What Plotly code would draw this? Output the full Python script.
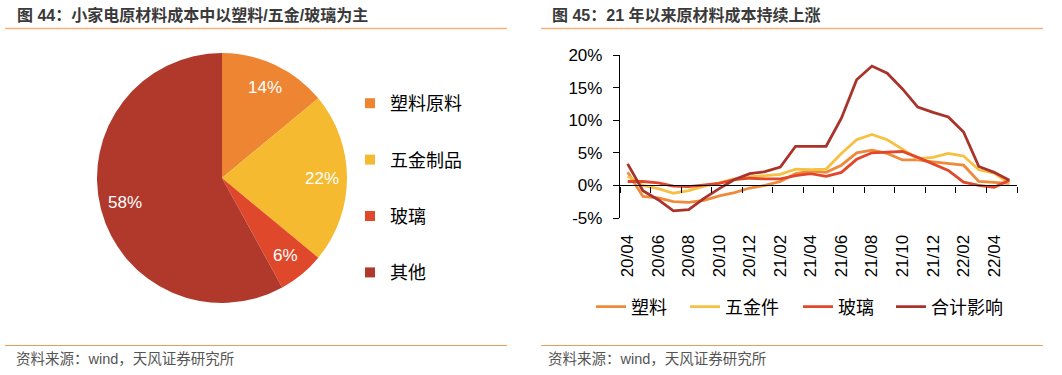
import math
import plotly.graph_objects as go

W, H = 1062, 375
FONT = "Liberation Sans, Arial, Noto Sans CJK SC, sans-serif"

# ---------------- data: pie ----------------
pie_title = "图 44：小家电原材料成本中以塑料/五金/玻璃为主"
pie_labels = ["塑料原料", "五金制品", "玻璃", "其他"]
pie_values = [14, 22, 6, 58]
pie_colors = ["#EE8532", "#F5BA30", "#E0482B", "#B0392C"]

# ---------------- data: lines ----------------
line_title = "图 45：21 年以来原材料成本持续上涨"
months = ["20/04", "20/05", "20/06", "20/07", "20/08", "20/09", "20/10", "20/11",
          "20/12", "21/01", "21/02", "21/03", "21/04", "21/05", "21/06", "21/07",
          "21/08", "21/09", "21/10", "21/11", "21/12", "22/01", "22/02", "22/03",
          "22/04", "22/05"]
plastic = [2.0, -1.7, -1.9, -2.5, -2.6, -2.3, -1.6, -1.1, -0.4, 0.0, 0.6, 1.8, 2.2,
           2.0, 3.1, 5.0, 5.4, 4.9, 3.9, 3.9, 3.6, 3.3, 3.1, 0.6, 0.5, 0.3]
hardware = [1.4, 0.0, -0.5, -1.2, -0.8, -0.1, 0.4, 1.0, 1.3, 1.5, 1.7, 2.5, 2.4,
            2.5, 4.9, 7.0, 7.8, 7.0, 5.6, 4.1, 4.3, 4.9, 4.5, 2.4, 1.9, 0.3]
glass = [0.6, 0.6, 0.4, -0.1, -0.2, 0.0, 0.3, 0.9, 1.1, 1.0, 1.0, 1.5, 1.8,
         1.4, 2.0, 4.0, 5.0, 5.1, 5.2, 4.3, 3.3, 2.3, 0.5, 0.0, -0.3, 0.8]
total = [3.3, -0.8, -2.2, -3.9, -3.7, -2.0, -0.5, 0.9, 1.8, 2.1, 2.8, 6.0, 6.0,
         6.0, 10.3, 16.2, 18.3, 17.2, 14.8, 12.0, 11.2, 10.5, 8.2, 2.9, 2.0, 0.8]
series_names = ["塑料", "五金件", "玻璃", "合计影响"]
series_values = [plastic, hardware, glass, total]
line_colors = ["#EE8A3A", "#F6C142", "#E2472B", "#A9332A"]
y_ticks = [-5, 0, 5, 10, 15, 20]
y_ticktext = ["-5%", "0%", "5%", "10%", "15%", "20%"]
source_text = "资料来源：wind，天风证券研究所"


def px_x(p):
    return p / W


def px_y(p):
    return 1 - p / H


fig = go.Figure()

# pie geometry (pixels)
PIE_L, PIE_R, PIE_T, PIE_B = 97, 347, 53, 303
fig.add_trace(go.Pie(
    labels=pie_labels, values=pie_values, sort=False, direction="clockwise",
    rotation=0, marker=dict(colors=pie_colors, line=dict(width=0)),
    textinfo="none", automargin=False,
    domain=dict(x=[px_x(PIE_L), px_x(PIE_R)], y=[px_y(PIE_B), px_y(PIE_T)]),
    showlegend=False, hoverinfo="label+percent",
))

# percentage labels placed on each slice's bisector (Excel-style)
cx, cy = (PIE_L + PIE_R) / 2, (PIE_T + PIE_B) / 2
rad = min(PIE_R - PIE_L, PIE_B - PIE_T) / 2 * 0.8
tot = sum(pie_values)
cum = 0
for v in pie_values:
    mid = (cum + v / 2) / tot * 2 * math.pi
    cum += v
    lx = cx + rad * math.sin(mid)
    ly = cy - rad * math.cos(mid)
    fig.add_annotation(text=f"{v}%", xref="paper", yref="paper",
                       x=px_x(lx), y=px_y(ly), showarrow=False,
                       xanchor="center", yanchor="middle",
                       font=dict(color="white", size=17))

# legend entries for pie (square markers)
for lab, col in zip(pie_labels, pie_colors):
    fig.add_trace(go.Scatter(
        x=[None], y=[None], mode="markers", name=lab,
        marker=dict(symbol="square", size=10, color=col),
        legend="legend", legendgroup=lab, showlegend=True,
    ))

n = len(months)
xs = list(range(n))
line_legends = ["legend2", "legend3", "legend4", "legend5"]
for name, vals, col, lg in zip(series_names, series_values, line_colors, line_legends):
    fig.add_trace(go.Scatter(
        x=xs, y=vals, mode="lines", name=name,
        line=dict(color=col, width=2.8),
        legend=lg,
    ))

# helper trace for the zero-crossing axis
fig.add_trace(go.Scatter(x=[None], y=[None], xaxis="x2", yaxis="y",
                         showlegend=False, hoverinfo="skip"))

ydom = [px_y(218), px_y(55)]
yr = [y_ticks[0], y_ticks[-1]]
zero_pos = ydom[0] + (0 - yr[0]) / (yr[1] - yr[0]) * (ydom[1] - ydom[0])

legend_common = dict(font=dict(size=18), bgcolor="rgba(0,0,0,0)",
                     itemclick=False, itemdoubleclick=False)
line_legend_x = [591, 685, 798, 891]

fig.update_layout(
    template="none",
    width=W, height=H, margin=dict(l=0, r=0, t=0, b=0, autoexpand=False),
    paper_bgcolor="white", plot_bgcolor="white",
    font=dict(family=FONT, color="black"),
    xaxis=dict(domain=[px_x(620), px_x(1017)], range=[-0.5, n - 0.5],
               tickmode="array", tickvals=xs[::2], ticktext=months[::2],
               tickangle=-90, ticks="outside", ticklen=9, automargin=False,
               tickcolor="rgba(0,0,0,0)", showline=False, showgrid=False,
               zeroline=False, tickfont=dict(size=17), anchor="y"),
    xaxis2=dict(overlaying="x", anchor="free", position=zero_pos,
                range=[-0.5, n - 0.5], tickmode="array", automargin=False,
                tickvals=[i - 0.5 for i in range(0, n + 1, 2)],
                showticklabels=False, ticks="outside", ticklen=6,
                tickcolor="black", tickwidth=1.3, showline=True,
                linecolor="black", linewidth=1.3, showgrid=False,
                zeroline=False),
    yaxis=dict(domain=ydom, range=yr, tickmode="array", tickvals=y_ticks,
               ticktext=y_ticktext, showline=True, linecolor="black",
               linewidth=1.3, ticks="outside", ticklen=6, tickwidth=1.3,
               tickcolor="black", showgrid=False, zeroline=False,
               automargin=False,
               tickfont=dict(size=17), ticklabelstandoff=7),
    legend=dict(x=px_x(350), xanchor="left", y=px_y(85), yanchor="top",
                tracegroupgap=30, **legend_common),
    showlegend=True,
)
for lg, lx in zip(line_legends, line_legend_x):
    fig.update_layout({lg: dict(orientation="h", x=px_x(lx), xanchor="left",
                                y=px_y(307), yanchor="middle", **legend_common)})

# titles
for txt, xp in [(pie_title, 15), (line_title, 550)]:
    fig.add_annotation(text="<b>" + txt + "</b>", xref="paper", yref="paper",
                       x=px_x(xp), y=px_y(15), xanchor="left", yanchor="middle",
                       showarrow=False, font=dict(size=16, color="#3a3a3a"))
# sources
for xp in [14, 546]:
    fig.add_annotation(text=source_text, xref="paper", yref="paper",
                       x=px_x(xp), y=px_y(359), xanchor="left", yanchor="middle",
                       showarrow=False, font=dict(size=14.5, color="#555555"))
# rules
for x0, x1 in [(5, 507), (541, 1043)]:
    fig.add_shape(type="line", xref="paper", yref="paper",
                  x0=px_x(x0), x1=px_x(x1), y0=px_y(28.5), y1=px_y(28.5),
                  line=dict(color="#F5B27A", width=1.5))
    fig.add_shape(type="line", xref="paper", yref="paper",
                  x0=px_x(x0), x1=px_x(x1), y0=px_y(345.5), y1=px_y(345.5),
                  line=dict(color="#EE9A5A", width=1.2))

fig.write_html("out.html",
               config={"displayModeBar": False, "staticPlot": False},
               post_script="document.body.style.margin='0';"
                           "document.body.style.padding='0';")
